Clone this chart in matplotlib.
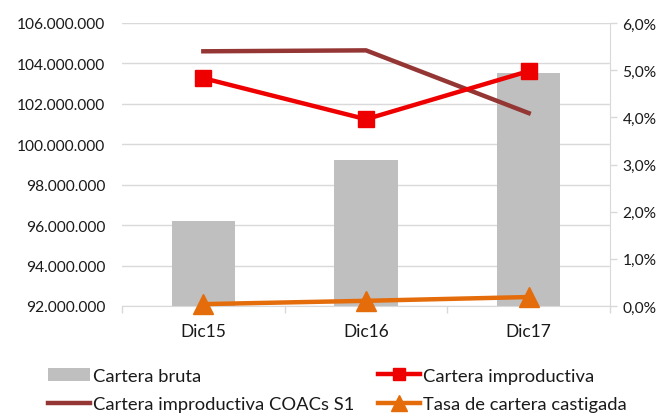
import matplotlib
matplotlib.use("agg")
from matplotlib import pyplot as plt
from matplotlib.ticker import FuncFormatter, MultipleLocator
import numpy as np

plt.rcParams['font.family'] = ['Lato', 'DejaVu Sans']

categorias = ["Dic15", "Dic16", "Dic17"]
cartera_bruta = [96_200_000, 99_220_000, 103_530_000]
cartera_improductiva = [4.83, 3.96, 4.98]
improductiva_coacs_s1 = [5.40, 5.42, 4.09]
tasa_castigada = [0.04, 0.11, 0.19]

GRID = '#d9d9d9'
TXT = '#1a1a1a'

fig = plt.figure(figsize=(6.61, 4.14), dpi=100)
ax = fig.add_axes([122/661, 1 - 307/414, 488/661, 283/414])
ax2 = ax.twinx()

x = np.arange(len(categorias))
ax.bar(x, cartera_bruta, width=0.39, color='#bfbfbf', label='Cartera bruta', zorder=2)
ax.set_ylim(92_000_000, 106_000_000)
ax.set_xlim(-0.5, 2.5)
ax.yaxis.set_major_locator(MultipleLocator(2_000_000))
ax.yaxis.set_major_formatter(FuncFormatter(lambda v, p: f"{int(v):,}".replace(",", ".")))
ax.grid(axis='y', color=GRID, linewidth=1, zorder=0)
ax.set_axisbelow(True)

ax2.plot(x, cartera_improductiva, color='#ee0000', linewidth=3.2, marker='s', markersize=11,
         label='Cartera improductiva', zorder=4)
ax2.plot(x, improductiva_coacs_s1, color='#943634', linewidth=3.2,
         label='Cartera improductiva COACs S1', zorder=3)
ax2.plot(x, tasa_castigada, color='#e46c0a', linewidth=3.2, marker='^', markersize=14,
         label='Tasa de cartera castigada', zorder=5, clip_on=False)
ax2.set_ylim(0, 6)
ax2.yaxis.set_major_locator(MultipleLocator(1))
ax2.yaxis.set_major_formatter(FuncFormatter(lambda v, p: f"{v:.1f}%".replace(".", ",")))

ax.set_xticks(x)
ax.set_xticklabels(categorias)
ax.set_xticks([-0.5, 0.5, 1.5, 2.5], minor=True)
ax.tick_params(axis='x', which='major', length=0, pad=12, labelsize=12.5, labelcolor=TXT)
ax.tick_params(axis='x', which='minor', length=5, color=GRID, width=1)
ax.tick_params(axis='y', length=0, pad=12, labelsize=11.2, labelcolor=TXT)
ax2.tick_params(axis='y', length=5, color=GRID, width=1, pad=4, labelsize=11.2, labelcolor=TXT)

for a in (ax, ax2):
    for s in ('top', 'left'):
        a.spines[s].set_visible(False)
    a.spines['bottom'].set_color(GRID)
    a.spines['right'].set_color(GRID)
ax.spines['right'].set_visible(False)
ax2.spines['bottom'].set_visible(False)

h1, l1 = ax.get_legend_handles_labels()
h2, l2 = ax2.get_legend_handles_labels()

# leyenda en dos columnas colocadas a mano
leg_kw = dict(frameon=False, fontsize=13.2, handlelength=2.3, handletextpad=0.15,
              labelspacing=0.7, borderpad=0, borderaxespad=0, loc='center left',
              markerscale=0.8)
leg1 = fig.legend([h1[0], h2[1]], [l1[0], l2[1]], bbox_to_anchor=(48/661, 1 - 391/414), **leg_kw)
leg2 = fig.legend([h2[0], h2[2]], [l2[0], l2[2]], bbox_to_anchor=(378/661, 1 - 391/414), **leg_kw)
for t in leg1.get_texts() + leg2.get_texts():
    t.set_color(TXT)

plt.savefig("out.png", dpi=100)
